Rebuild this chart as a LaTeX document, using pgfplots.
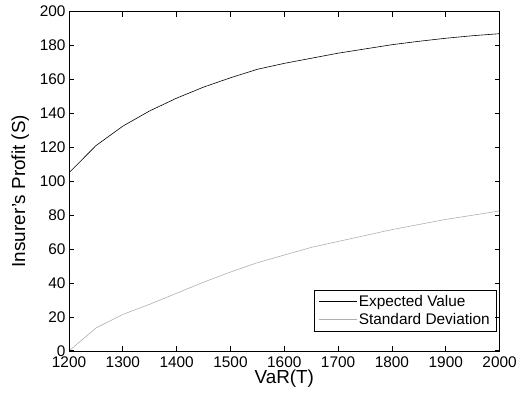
\documentclass[border=0pt]{standalone}
\usepackage{fontspec}
\setmainfont{Liberation Sans}
\usepackage{pgfplots}
\pgfplotsset{compat=1.18}
\begin{document}
\begin{tikzpicture}
\begin{axis}[
  name=ax,
  scale only axis, width=433.5pt, height=341.6pt,
  xmin=1200, xmax=2000, ymin=0, ymax=200,
  xtick={1200,1300,...,2000}, ytick={0,20,...,200},
  major tick length=5pt,
  every tick/.append style={black, line width=0.8pt},
  /pgf/number format/assume math mode=true,
  /pgf/number format/1000 sep={},
  ticklabel style={font=\fontsize{15.5}{18}\selectfont},
  xticklabel style={yshift=-2pt},
  xlabel={VaR(T)}, ylabel={Insurer's Profit (S)},
  label style={font=\fontsize{19}{22}\selectfont},
  xlabel style={yshift=4pt},
  ylabel style={yshift=4pt, xshift=-10pt},
  legend style={at={(0.9915,0.0585)}, anchor=south east, draw=black,
    font=\fontsize{15.5}{18}\selectfont, row sep=1.5pt, inner xsep=4pt, inner ysep=3pt,
    nodes={inner sep=2pt}},
  legend cell align=left,
  legend image code/.code={\draw[#1, line width=0.6pt] (0pt,0pt) -- (38pt,0pt);},
]
\addplot[black, line width=0.6pt] coordinates {
(1200,105) (1250,121) (1300,132.5) (1350,141.5) (1400,149) (1450,155.5) (1500,161)
(1550,166) (1600,169.5) (1650,172.5) (1700,175.5) (1750,178) (1800,180.5)
(1850,182.5) (1900,184.3) (1950,185.8) (2000,187)};
\addlegendentry{Expected Value}
\addplot[color={rgb,255:red,175;green,175;blue,175}, line width=0.6pt] coordinates {
(1200,0) (1250,13.5) (1300,21.5) (1350,27.5) (1400,34) (1450,40.5) (1500,46.5)
(1550,52) (1600,56.5) (1650,61) (1700,64.5) (1750,68) (1800,71.5)
(1850,74.5) (1900,77.5) (1950,80) (2000,82.5)};
\addlegendentry{Standard Deviation}
\end{axis}
\begin{axis}[
  at={(ax.south west)}, anchor=south west,
  scale only axis, width=433.5pt, height=341.6pt,
  xmin=1200, xmax=2000, ymin=0, ymax=200,
  xtick={1200,1300,...,2000}, ytick={0,20,...,200},
  major tick length=5pt,
  every tick/.append style={black, line width=0.8pt},
  xticklabel style={text opacity=0}, yticklabel style={text opacity=0},
]
\addplot[draw=none] coordinates {(1200,0) (2000,200)};
\end{axis}
\path (ax.south west) ++(-69.5pt,-45.7pt);
\path (ax.north east) ++(17pt,11.7pt);
\end{tikzpicture}
\end{document}
